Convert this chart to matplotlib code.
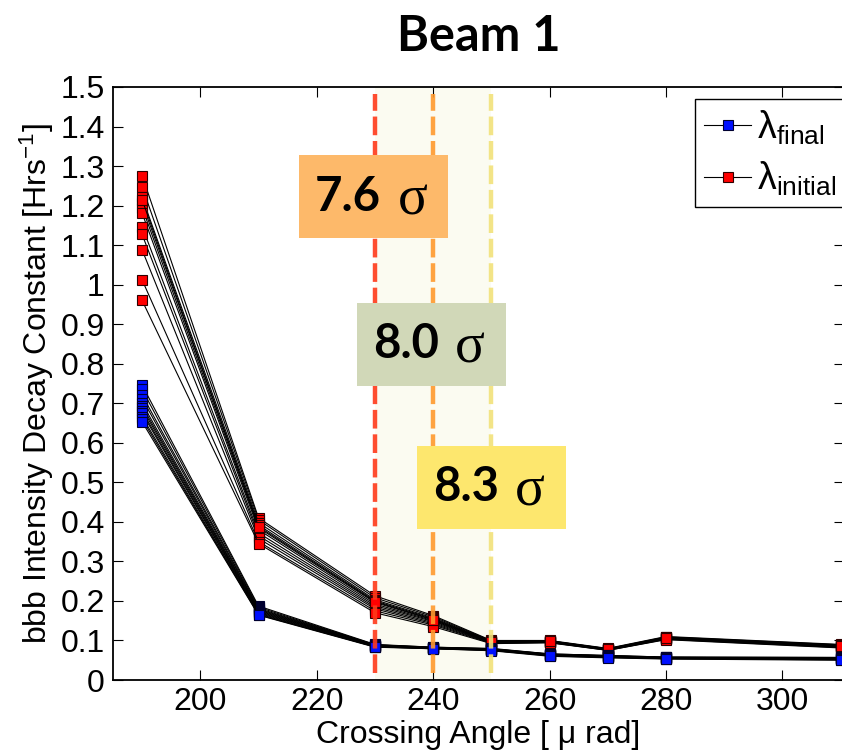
import matplotlib
matplotlib.use("Agg")
import matplotlib.pyplot as plt
from matplotlib.patches import Rectangle
from matplotlib.lines import Line2D

plt.rcParams['font.family'] = ['Liberation Sans', 'DejaVu Sans']
plt.rcParams['mathtext.fontset'] = 'custom'
plt.rcParams['mathtext.rm'] = 'Liberation Sans'
plt.rcParams['mathtext.it'] = 'Liberation Sans:italic'
plt.rcParams['mathtext.bf'] = 'Liberation Sans:bold'

# ---------------- data ----------------
angles = [190, 210, 230, 240, 250, 260, 270, 280, 310]

# lambda_initial per crossing angle (one value per bunch)
init_190 = [1.276, 1.248, 1.221, 1.206, 1.195, 1.181, 1.147, 1.127, 1.088, 1.012, 0.960, 1.215]
init_210 = [0.410, 0.405, 0.398, 0.392, 0.385, 0.380, 0.372, 0.365, 0.358, 0.350, 0.345, 0.388]
init_230 = [0.213, 0.208, 0.203, 0.200, 0.196, 0.192, 0.188, 0.184, 0.180, 0.175, 0.170, 0.198]
init_240 = [0.163, 0.160, 0.157, 0.155, 0.152, 0.150, 0.148, 0.145, 0.142, 0.139, 0.135, 0.153]
init_250 = [0.100, 0.099, 0.098, 0.097, 0.097, 0.096, 0.095, 0.095, 0.094, 0.093, 0.092, 0.096]
init_260 = [0.100, 0.099, 0.099, 0.098, 0.097, 0.097, 0.096, 0.096, 0.095, 0.095, 0.094, 0.098]
init_270 = [0.080, 0.079, 0.079, 0.078, 0.078, 0.077, 0.077, 0.076, 0.076, 0.075, 0.075, 0.078]
init_280 = [0.110, 0.109, 0.108, 0.107, 0.106, 0.106, 0.105, 0.104, 0.104, 0.103, 0.102, 0.107]
init_310 = [0.090, 0.089, 0.088, 0.087, 0.086, 0.086, 0.085, 0.084, 0.083, 0.082, 0.081, 0.087]

# lambda_final per crossing angle (one value per bunch)
final_190 = [0.746, 0.735, 0.721, 0.712, 0.700, 0.693, 0.687, 0.680, 0.675, 0.666, 0.660, 0.653]
final_210 = [0.187, 0.184, 0.181, 0.179, 0.177, 0.175, 0.173, 0.171, 0.169, 0.167, 0.165, 0.164]
final_230 = [0.090, 0.089, 0.089, 0.088, 0.087, 0.087, 0.086, 0.086, 0.085, 0.084, 0.084, 0.083]
final_240 = [0.083, 0.083, 0.082, 0.082, 0.081, 0.081, 0.081, 0.080, 0.080, 0.080, 0.079, 0.079]
final_250 = [0.080, 0.079, 0.079, 0.078, 0.078, 0.077, 0.077, 0.076, 0.076, 0.075, 0.075, 0.074]
final_260 = [0.066, 0.066, 0.065, 0.065, 0.064, 0.064, 0.063, 0.063, 0.062, 0.062, 0.061, 0.060]
final_270 = [0.062, 0.062, 0.061, 0.061, 0.060, 0.060, 0.059, 0.059, 0.058, 0.058, 0.057, 0.056]
final_280 = [0.058, 0.058, 0.057, 0.057, 0.056, 0.056, 0.055, 0.055, 0.055, 0.054, 0.054, 0.053]
final_310 = [0.057, 0.057, 0.056, 0.056, 0.055, 0.055, 0.054, 0.054, 0.053, 0.052, 0.051, 0.050]

init_cols = [init_190, init_210, init_230, init_240, init_250, init_260, init_270, init_280, init_310]
final_cols = [final_190, final_210, final_230, final_240, final_250, final_260, final_270, final_280, final_310]

sigma_angles = [230, 240, 250]
sigma_labels = ['7.6', '8.0', '8.3']
line_colors = ['#ff3a1a', '#ff9a2e', '#f2e27a']
box_colors = ['#fdb96a', '#d1d8b8', '#fde76e']

x_ticks = [200, 220, 240, 260, 280, 300]
y_ticks = [0, 0.1, 0.2, 0.3, 0.4, 0.5, 0.6, 0.7, 0.8, 0.9, 1.0, 1.1, 1.2, 1.3, 1.4, 1.5]

# ---------------- figure ----------------
W, H = 842, 754
fig = plt.figure(figsize=(W / 100, H / 100), dpi=100)
ax_left, ax_right, ax_top, ax_bot = 113, 843.6, 87, 680
ax = fig.add_axes([ax_left / W, 1 - ax_bot / H, (ax_right - ax_left) / W, (ax_bot - ax_top) / H])

ax.set_xlim(185, 310.5)
ax.set_ylim(0, 1.5)

# shaded band
ax.axvspan(sigma_angles[0], sigma_angles[-1], color='#fbfbf1', zorder=0, lw=0)

nb = len(init_190)
for b in range(nb):
    ax.plot(angles, [c[b] for c in init_cols], '-', color='black', lw=0.8,
            marker='s', ms=7.5, mfc='#ff0000', mec='#300000', mew=0.8, zorder=3)
for b in range(nb):
    ax.plot(angles, [c[b] for c in final_cols], '-', color='black', lw=0.8,
            marker='s', ms=7.5, mfc='#0010ff', mec='#000030', mew=0.8, zorder=3)

# dashed vertical lines
for xa, col in zip(sigma_angles, line_colors):
    ax.axvline(xa, ymin=0.012, ymax=0.988, color=col, lw=3.2, ls=(0, (4.2, 1.3)), alpha=0.9, zorder=4)

# sigma boxes (layout in data coords)
boxes = [(217.0, 1.118, 25.6, 0.210), (226.95, 0.744, 25.6, 0.210), (237.25, 0.382, 25.6, 0.210)]
for (bx, by, bw, bh), col, lab in zip(boxes, box_colors, sigma_labels):
    ax.add_patch(Rectangle((bx, by), bw, bh, facecolor=col, edgecolor='none', zorder=5))
    cx, cy = bx + bw / 2, by + bh / 2
    ax.annotate(lab, (cx, cy), xytext=(5, 0), textcoords='offset points',
                ha='right', va='center', fontsize=34, fontweight='bold',
                family=['Lato', 'DejaVu Sans'], zorder=6)
    ax.annotate('σ', (cx, cy), xytext=(17, -3), textcoords='offset points',
                ha='left', va='center', fontsize=40,
                family=['Liberation Serif', 'DejaVu Serif'], zorder=6)

# legend
h1 = Line2D([], [], color='black', lw=0.8, marker='s', ms=7, mfc='#0010ff', mec='#000030', mew=0.8)
h2 = Line2D([], [], color='black', lw=0.8, marker='s', ms=7, mfc='#ff0000', mec='#300000', mew=0.8)
leg = ax.legend([h1, h2], [r'λ$_{\mathrm{final}}$', r'λ$_{\mathrm{initial}}$'],
                loc='upper left',
                bbox_to_anchor=((695 - ax_left) / (ax_right - ax_left), (ax_bot - 99) / (ax_bot - ax_top)),
                fontsize=27, frameon=True, fancybox=False, edgecolor='black', framealpha=1,
                handlelength=1.25, handletextpad=0.15, borderpad=0.25, labelspacing=0.35,
                borderaxespad=0)
leg.get_frame().set_linewidth(1.0)
leg.set_zorder(10)

ax.set_xticks(x_ticks)
ax.set_xticklabels([str(t) for t in x_ticks])
ax.set_yticks(y_ticks)
ax.set_yticklabels(['%g' % t for t in y_ticks])
ax.tick_params(direction='in', length=7, width=0.8, labelsize=23, top=True, right=True)
ax.tick_params(axis='x', pad=5)
ax.tick_params(axis='y', pad=6)
for s in ax.spines.values():
    s.set_linewidth(1.3)

ax.set_xlabel('Crossing Angle [ μ rad]', fontsize=23, labelpad=2)
ax.set_ylabel(r'bbb Intensity Decay Constant [Hrs$^{-1}$]', fontsize=23, labelpad=3)
ax.set_title('Beam 1', fontsize=35, fontweight='bold', family=['Lato', 'DejaVu Sans'], pad=26)

fig.savefig('out.png', dpi=100)
